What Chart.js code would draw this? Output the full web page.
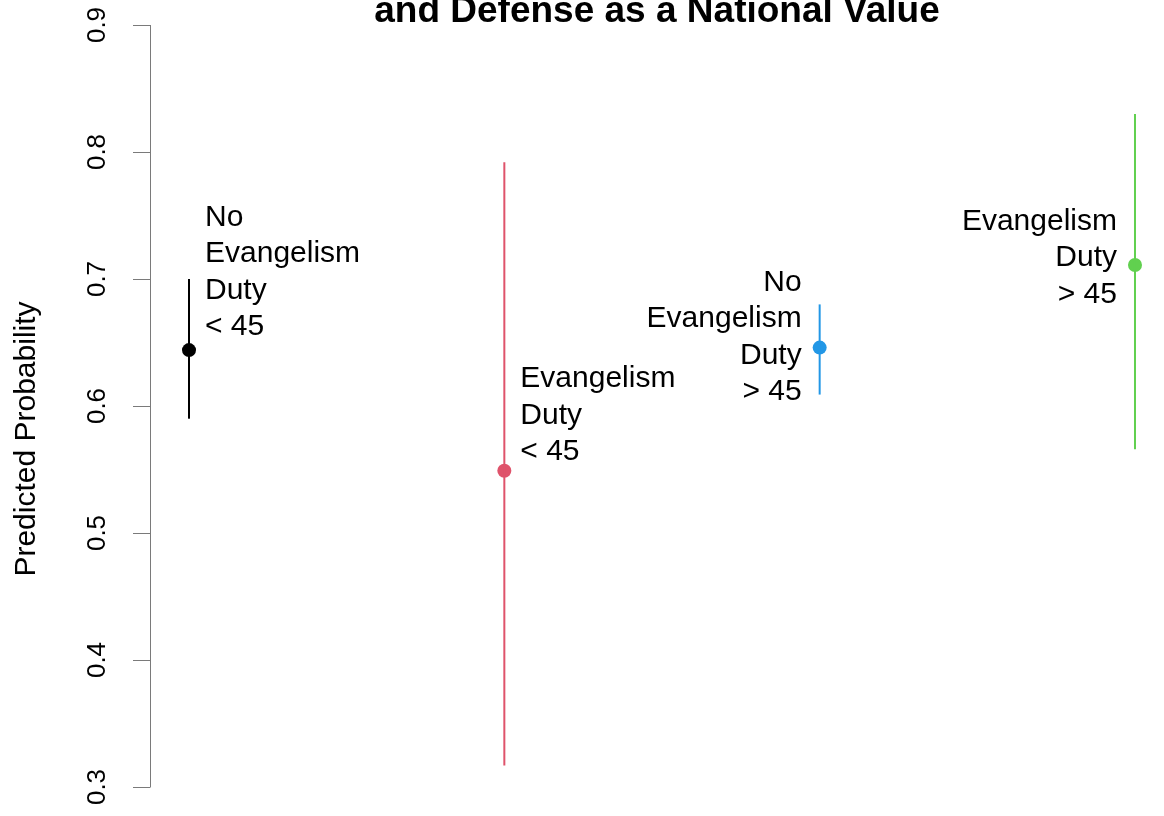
<!DOCTYPE html>
<html lang="en">
<head>
    <meta charset="UTF-8">
    <title>Predicted Probability</title>
    <script src="https://cdn.jsdelivr.net/npm/chart.js"></script>
    <style>
        body {
            margin: 0;
            padding: 0;
            background-color: #fff;
            overflow: hidden;
        }

        canvas {
            display: block;
        }
    </style>
</head>
<body>
    <canvas id="probChart" width="1164" height="816"></canvas>

    <script>
        // values
        const groups = [
            ['No', 'Evangelism', 'Duty', '< 45'],
            ['Evangelism', 'Duty', '< 45'],
            ['No', 'Evangelism', 'Duty', '> 45'],
            ['Evangelism', 'Duty', '> 45']
        ];
        const xPos = [1, 2, 3, 4];
        const estimates = [0.644, 0.549, 0.646, 0.711];
        const lower = [0.590, 0.317, 0.609, 0.566];
        const upper = [0.700, 0.792, 0.680, 0.830];
        const labelY = [0.7055, 0.5925, 0.6543, 0.7165];
        const labelSide = ['right', 'right', 'left', 'left'];
        const colors = ['#000000', '#DF536B', '#2297E6', '#61D04F'];
        const yTicks = [0.3, 0.4, 0.5, 0.6, 0.7, 0.8, 0.9];

        const titleText = 'and Defense as a National Value';
        const yTitle = 'Predicted Probability';

        const ciSets = xPos.map((x, i) => ({
            type: 'line',
            data: [{ x: x, y: lower[i] }, { x: x, y: upper[i] }],
            borderColor: colors[i],
            borderWidth: 2,
            pointRadius: 0,
            fill: false
        }));

        // axis, tick labels, titles and group text drawn with the chart's scales
        const decorations = {
            id: 'decorations',
            afterDatasetsDraw(chart) {
                const ctx = chart.ctx;
                const xs = chart.scales.x;
                const ys = chart.scales.y;
                const area = chart.chartArea;
                ctx.save();

                // y axis line + ticks
                ctx.strokeStyle = '#7a7a7a';
                ctx.lineWidth = 1;
                ctx.beginPath();
                ctx.moveTo(area.left + 0.5, ys.getPixelForValue(yTicks[0]));
                ctx.lineTo(area.left + 0.5, ys.getPixelForValue(yTicks[yTicks.length - 1]));
                yTicks.forEach(t => {
                    const py = Math.round(ys.getPixelForValue(t)) + 0.5;
                    ctx.moveTo(area.left + 0.5, py);
                    ctx.lineTo(area.left - 17, py);
                });
                ctx.stroke();

                // rotated tick labels
                ctx.fillStyle = '#000';
                ctx.font = '26px "Liberation Sans", Arial, sans-serif';
                ctx.textAlign = 'center';
                ctx.textBaseline = 'middle';
                yTicks.forEach(t => {
                    ctx.save();
                    ctx.translate(area.left - 52, ys.getPixelForValue(t));
                    ctx.rotate(-Math.PI / 2);
                    ctx.fillText(t.toFixed(1), 0, 0);
                    ctx.restore();
                });

                // y axis title
                ctx.font = '30px "Liberation Sans", Arial, sans-serif';
                ctx.save();
                ctx.translate(27, 439);
                ctx.rotate(-Math.PI / 2);
                ctx.fillText(yTitle, 0, 0);
                ctx.restore();

                // main title (first line is off the top of the picture)
                ctx.font = 'bold 37px "Liberation Sans", Arial, sans-serif';
                ctx.textBaseline = 'alphabetic';
                ctx.fillText(titleText, (area.left + area.right) / 2, 22);

                // group labels
                ctx.font = '30px "Liberation Sans", Arial, sans-serif';
                ctx.textBaseline = 'middle';
                const lineH = 36.5;
                groups.forEach((lines, i) => {
                    const px = xs.getPixelForValue(xPos[i]);
                    const cy = ys.getPixelForValue(labelY[i]);
                    const right = labelSide[i] === 'right';
                    ctx.textAlign = right ? 'left' : 'right';
                    const tx = right ? px + 16 : px - 18;
                    const y0 = cy - (lines.length - 1) * lineH / 2;
                    lines.forEach((s, k) => ctx.fillText(s, tx, y0 + k * lineH));
                });

                ctx.restore();
            }
        };

        const ctx = document.getElementById('probChart').getContext('2d');
        new Chart(ctx, {
            type: 'scatter',
            data: {
                datasets: ciSets.concat([{
                    type: 'scatter',
                    data: xPos.map((x, i) => ({ x: x, y: estimates[i] })),
                    pointBackgroundColor: colors,
                    pointBorderColor: colors,
                    pointRadius: 7,
                    pointBorderWidth: 0
                }])
            },
            options: {
                responsive: false,
                maintainAspectRatio: false,
                animation: false,
                layout: {
                    autoPadding: false,
                    padding: { left: 150, top: 25, right: 0, bottom: 29 }
                },
                scales: {
                    x: { type: 'linear', min: 0.8763, max: 4.092, display: false },
                    y: { type: 'linear', min: 0.3, max: 0.9, display: false }
                },
                plugins: {
                    legend: { display: false },
                    tooltip: { enabled: false }
                }
            },
            plugins: [decorations]
        });
    </script>
</body>
</html>
